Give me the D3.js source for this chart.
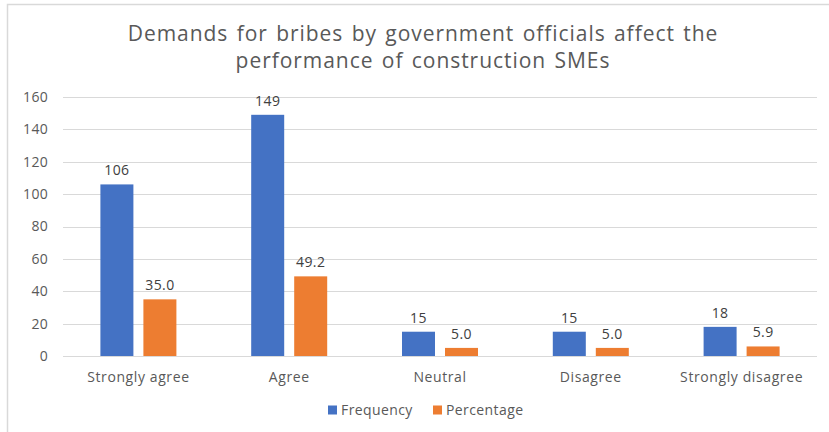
<!DOCTYPE html>
<html>
<head>
<meta charset="utf-8">
<script src="https://cdn.jsdelivr.net/npm/d3@7/dist/d3.min.js"></script>
<style>
  html, body { margin: 0; padding: 0; background: #fff; }
  svg { display: block; font-family: "Open Sans", "Noto Sans", sans-serif; }
</style>
</head>
<body>
<svg id="chart" width="829" height="432"></svg>
<script>
// Survey responses: demands for bribes and SME performance
const categories = ["Strongly agree", "Agree", "Neutral", "Disagree", "Strongly disagree"];
const frequency = [106, 149, 15, 15, 18];
const percentage = [35.0, 49.2, 5.0, 5.0, 5.9];
const seriesNames = ["Frequency", "Percentage"];
const yTicks = [0, 20, 40, 60, 80, 100, 120, 140, 160];
const titleLines = ["Demands for bribes by government officials affect the", "performance of construction SMEs"];

const colors = { Frequency: "#4472C4", Percentage: "#ED7D31" };
const svg = d3.select("#chart");
const W = 829, H = 432;
const margin = { left: 63, right: 12, top: 97, bottom: 76 };

// chart frame (top and left edges)
svg.append("path")
  .attr("d", `M7.5,${H} V4.5 H${W}`)
  .attr("fill", "none")
  .attr("stroke", "#d9d9d9")
  .attr("stroke-width", 1.5);

// title
svg.append("g").selectAll("text")
  .data(titleLines)
  .join("text")
  .attr("x", 423)
  .attr("y", (d, i) => 41 + i * 27)
  .attr("text-anchor", "middle")
  .attr("font-size", 21)
  .attr("letter-spacing", 0.95)
  .attr("word-spacing", 2)
  .attr("fill", "#595959")
  .text(d => d);

const x0 = d3.scaleBand()
  .domain(categories)
  .range([margin.left, W - margin.right])
  .paddingInner(0)
  .paddingOuter(0);

const y = d3.scaleLinear()
  .domain([0, 160])
  .range([H - margin.bottom, margin.top]);

// gridlines
svg.append("g")
  .selectAll("line")
  .data(yTicks)
  .join("line")
  .attr("x1", margin.left)
  .attr("x2", W - margin.right)
  .attr("y1", d => Math.round(y(d)) + 0.5)
  .attr("y2", d => Math.round(y(d)) + 0.5)
  .attr("stroke", "#d9d9d9")
  .attr("stroke-width", 1);

// y axis labels
const yAxis = d3.axisLeft(y).tickValues(yTicks).tickSize(0).tickPadding(0);
const ya = svg.append("g")
  .attr("transform", `translate(${margin.left - 15},0)`)
  .call(yAxis);
ya.select(".domain").remove();
ya.selectAll("text")
  .attr("font-size", 14)
  .attr("letter-spacing", 0.3)
  .attr("font-family", "'Open Sans', sans-serif")
  .attr("fill", "#595959");

// category axis labels
const xAxis = d3.axisBottom(x0).tickSize(0).tickPadding(0);
const xa = svg.append("g")
  .attr("transform", `translate(0,${H - margin.bottom + 16})`)
  .call(xAxis);
xa.select(".domain").remove();
xa.selectAll("text")
  .attr("font-size", 14)
  .attr("letter-spacing", 0.6)
  .attr("font-family", "'Open Sans', sans-serif")
  .attr("fill", "#595959");

// bars
const barW = 33, gap = 10;
const rows = categories.map((c, i) => ({ cat: c, values: [frequency[i], percentage[i]] }));

const groups = svg.append("g").selectAll("g")
  .data(rows)
  .join("g")
  .attr("transform", d => `translate(${x0(d.cat) + x0.bandwidth() / 2},0)`);

groups.selectAll("rect")
  .data(d => d.values.map((v, j) => ({ v, j })))
  .join("rect")
  .attr("x", d => d.j === 0 ? -(barW + gap / 2) : gap / 2)
  .attr("width", barW)
  .attr("y", d => y(d.v))
  .attr("height", d => y(0) - y(d.v))
  .attr("fill", d => colors[seriesNames[d.j]]);

groups.selectAll("text.val")
  .data(d => d.values.map((v, j) => ({ v, j })))
  .join("text")
  .attr("class", "val")
  .attr("x", d => d.j === 0 ? -(barW + gap) / 2 : (barW + gap) / 2)
  .attr("y", d => y(d.v) - 9)
  .attr("text-anchor", "middle")
  .attr("font-size", 14)
  .attr("letter-spacing", 0.4)
  .attr("fill", "#404040")
  .text(d => d.j === 0 ? d3.format("d")(d.v) : d3.format(".1f")(d.v));

// legend
const legend = svg.append("g").attr("transform", `translate(0,${H - 22})`);
const legendX = [328, 433];
seriesNames.forEach((name, i) => {
  legend.append("rect")
    .attr("x", legendX[i])
    .attr("y", -4.5)
    .attr("width", 9)
    .attr("height", 9)
    .attr("fill", colors[name]);
  legend.append("text")
    .attr("x", legendX[i] + 13)
    .attr("y", 0)
    .attr("dy", "0.35em")
    .attr("font-size", 14)
    .attr("letter-spacing", 0.4)
    .attr("fill", "#595959")
    .text(name);
});
</script>
</body>
</html>
